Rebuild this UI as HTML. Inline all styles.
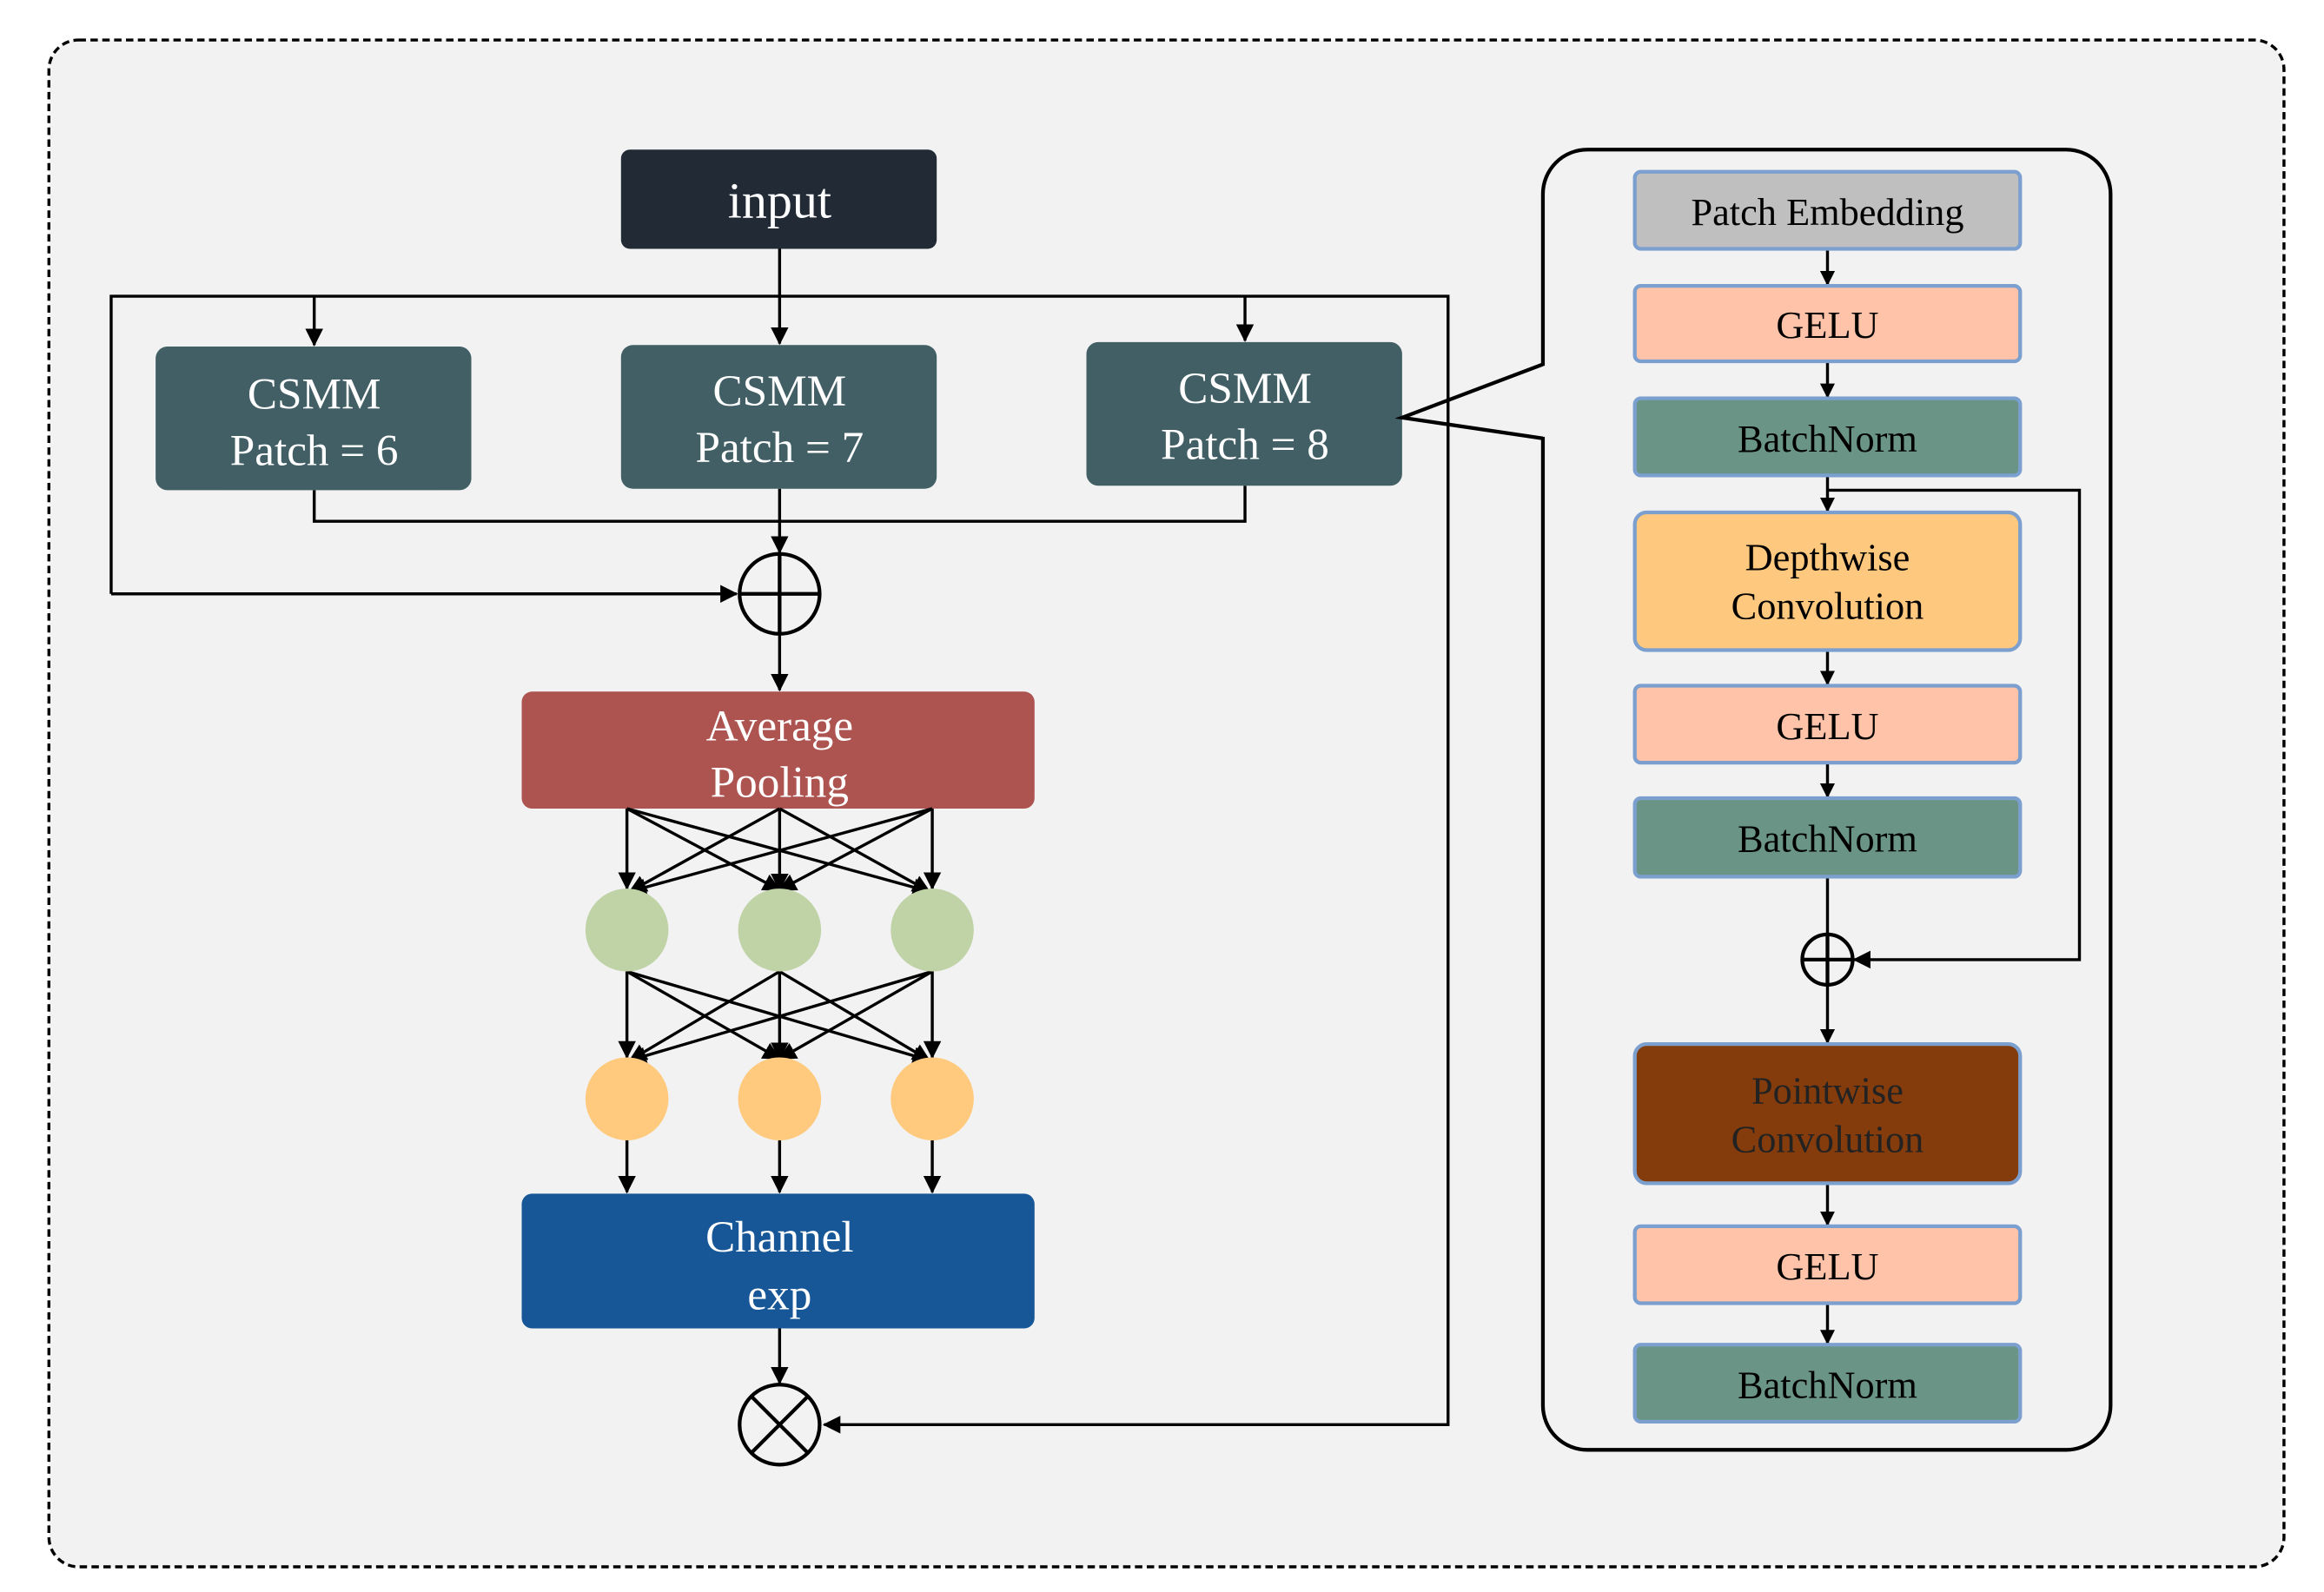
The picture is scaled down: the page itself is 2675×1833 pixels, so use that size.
<!DOCTYPE html>
<html><head><meta charset="utf-8"><style>html,body{margin:0;padding:0;background:#fff}svg{display:block}</style></head>
<body>
<svg width="2675" height="1833" viewBox="0 0 1568 1075" preserveAspectRatio="none" xmlns="http://www.w3.org/2000/svg" font-family="Liberation Serif, serif">
<defs>
<marker id="a" markerWidth="10" markerHeight="10" refX="9" refY="5" orient="auto" markerUnits="userSpaceOnUse"><path d="M0,0 L10,5 L0,10 Z" fill="#000"/></marker>
<marker id="b" markerWidth="12" markerHeight="12" refX="11" refY="6" orient="auto" markerUnits="userSpaceOnUse"><path d="M0,0 L12,6 L0,12 Z" fill="#000"/></marker>
</defs>
<rect x="0" y="0" width="1568" height="1075" fill="#fff"/>
<rect x="33" y="27" width="1508" height="1031" rx="20" fill="#f2f2f2" stroke="#000" stroke-width="2" stroke-dasharray="5,3"/>

<g stroke="#000" stroke-width="2" fill="none">
<path d="M75,401 L75,200 L977,200 L977,962 L556,962" marker-end="url(#b)"/>
<path d="M75,401 L497,401" marker-end="url(#b)"/>
<path d="M526,168 L526,232" marker-end="url(#b)"/>
<path d="M212,200 L212,233" marker-end="url(#b)"/>
<path d="M840,200 L840,230" marker-end="url(#b)"/>
<path d="M212,331 L212,352 L840,352 L840,328"/>
<path d="M526,330 L526,373" marker-end="url(#b)"/>
<path d="M526,428 L526,466" marker-end="url(#b)"/>
<path d="M526,897 L526,934" marker-end="url(#b)"/>
<path d="M423,770 L423,805" marker-end="url(#b)"/>
<path d="M526,770 L526,805" marker-end="url(#b)"/>
<path d="M629,770 L629,805" marker-end="url(#b)"/>
</g>
<rect x="419" y="101" width="213" height="67" rx="6" fill="#222a35"/>
<text x="526" y="147" font-size="34" fill="#fff" text-anchor="middle">input</text>

<g fill="#425f66">
<rect x="105" y="234" width="213" height="97" rx="8"/>
<rect x="419" y="233" width="213" height="97" rx="8"/>
<rect x="733" y="231" width="213" height="97" rx="8"/>
</g>
<g fill="#fff" font-size="30" text-anchor="middle">
<text x="212" y="276">CSMM</text><text x="212" y="314">Patch = 6</text>
<text x="526" y="274">CSMM</text><text x="526" y="312">Patch = 7</text>
<text x="840" y="272">CSMM</text><text x="840" y="310">Patch = 8</text>
</g>

<circle cx="526" cy="401" r="27" fill="none" stroke="#000" stroke-width="2.5"/>
<path d="M499,401 H553 M526,374 V428" stroke="#000" stroke-width="2.5"/>

<rect x="352" y="467" width="346" height="79" rx="7" fill="#ad5350"/>
<text x="526" y="500" font-size="30" fill="#fff" text-anchor="middle">Average</text>
<text x="526" y="538" font-size="30" fill="#fff" text-anchor="middle">Pooling</text>

<g stroke="#000" stroke-width="2" marker-end="url(#b)">
<line x1="423" y1="546" x2="423" y2="600"/><line x1="423" y1="546" x2="526" y2="601"/><line x1="423" y1="546" x2="627" y2="602"/>
<line x1="526" y1="546" x2="425" y2="602"/><line x1="526" y1="546" x2="526" y2="601"/><line x1="526" y1="546" x2="627" y2="602"/>
<line x1="629" y1="546" x2="425" y2="602"/><line x1="629" y1="546" x2="526" y2="601"/><line x1="629" y1="546" x2="629" y2="600"/>
<line x1="423" y1="656" x2="423" y2="714"/><line x1="423" y1="656" x2="526" y2="715"/><line x1="423" y1="656" x2="627" y2="716"/>
<line x1="526" y1="656" x2="425" y2="716"/><line x1="526" y1="656" x2="526" y2="715"/><line x1="526" y1="656" x2="627" y2="716"/>
<line x1="629" y1="656" x2="425" y2="716"/><line x1="629" y1="656" x2="526" y2="715"/><line x1="629" y1="656" x2="629" y2="714"/>
</g>
<g fill="#c0d3a7"><circle cx="423" cy="628" r="28"/><circle cx="526" cy="628" r="28"/><circle cx="629" cy="628" r="28"/></g>
<g fill="#ffca7e"><circle cx="423" cy="742" r="28"/><circle cx="526" cy="742" r="28"/><circle cx="629" cy="742" r="28"/></g>

<rect x="352" y="806" width="346" height="91" rx="7" fill="#175797"/>
<text x="526" y="845" font-size="30" fill="#fff" text-anchor="middle">Channel</text>
<text x="526" y="884" font-size="30" fill="#fff" text-anchor="middle">exp</text>

<circle cx="526" cy="962" r="27" fill="none" stroke="#000" stroke-width="2.5"/>
<path d="M507,943 L545,981 M545,943 L507,981" stroke="#000" stroke-width="2.5"/>

<rect x="1041" y="101" width="383" height="878" rx="30" fill="none" stroke="#000" stroke-width="2.5"/>
<rect x="1036" y="247" width="10" height="48" fill="#f2f2f2"/>
<path d="M1041,246 L946,282 L1041,296" fill="none" stroke="#000" stroke-width="2.5"/>

<g stroke="#000" stroke-width="2" fill="none">
<path d="M1233,168 L1233,192" marker-end="url(#a)"/>
<path d="M1233,244 L1233,268" marker-end="url(#a)"/>
<path d="M1233,321 L1233,345" marker-end="url(#a)"/>
<path d="M1233,439 L1233,462" marker-end="url(#a)"/>
<path d="M1233,515 L1233,538" marker-end="url(#a)"/>
<path d="M1233,592 L1233,630"/>
<path d="M1233,665 L1233,704" marker-end="url(#a)"/>
<path d="M1233,799 L1233,827" marker-end="url(#a)"/>
<path d="M1233,880 L1233,907" marker-end="url(#a)"/>
<path d="M1233,331 L1403,331 L1403,648 L1251,648" marker-end="url(#b)"/>
</g>
<circle cx="1233" cy="648" r="17" fill="none" stroke="#000" stroke-width="2.5"/>
<path d="M1216,648 H1250 M1233,631 V665" stroke="#000" stroke-width="2.5"/>

<g stroke="#7b9fcf" stroke-width="2.5">
<rect x="1103" y="116" width="260" height="52" rx="4" fill="#bfbfbf"/>
<rect x="1103" y="193" width="260" height="51" rx="4" fill="#fec3a8"/>
<rect x="1103" y="269" width="260" height="52" rx="4" fill="#6a9486"/>
<rect x="1103" y="346" width="260" height="93" rx="8" fill="#fec97e"/>
<rect x="1103" y="463" width="260" height="52" rx="4" fill="#fec3a8"/>
<rect x="1103" y="539" width="260" height="53" rx="4" fill="#6a9486"/>
<rect x="1103" y="705" width="260" height="94" rx="8" fill="#843c0c"/>
<rect x="1103" y="828" width="260" height="52" rx="4" fill="#fec3a8"/>
<rect x="1103" y="908" width="260" height="52" rx="4" fill="#6a9486"/>
</g>
<g font-size="26" text-anchor="middle" fill="#000">
<text x="1233" y="152">Patch Embedding</text>
<text x="1233" y="228">GELU</text>
<text x="1233" y="305">BatchNorm</text>
<text x="1233" y="385">Depthwise</text>
<text x="1233" y="418">Convolution</text>
<text x="1233" y="499">GELU</text>
<text x="1233" y="575">BatchNorm</text>
<text x="1233" y="745" fill="#222">Pointwise</text>
<text x="1233" y="778" fill="#222">Convolution</text>
<text x="1233" y="864">GELU</text>
<text x="1233" y="944">BatchNorm</text>
</g>
</svg>
</body></html>
